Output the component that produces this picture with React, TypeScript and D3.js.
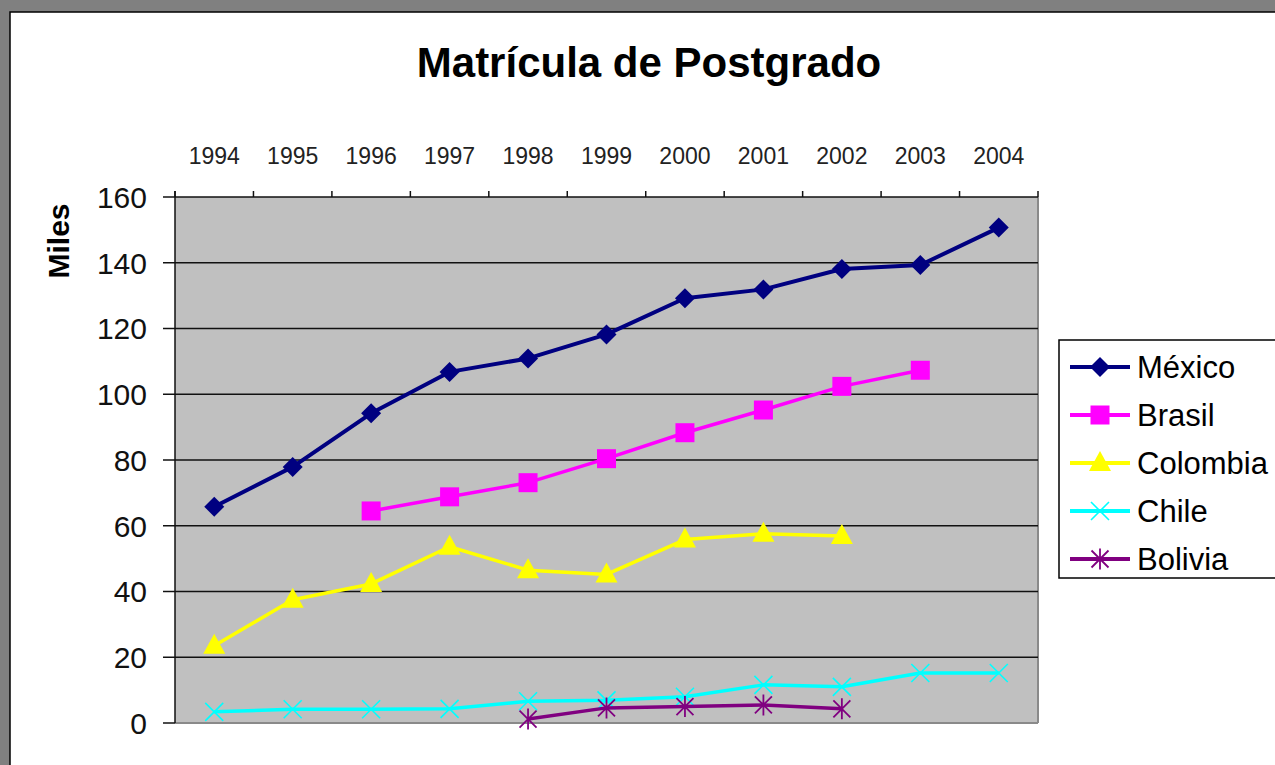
import * as d3 from "d3";

const years = ["1994", "1995", "1996", "1997", "1998", "1999", "2000", "2001", "2002", "2003", "2004"];
const yTicks = [0, 20, 40, 60, 80, 100, 120, 140, 160];

// miles de alumnos, null = sin dato
const mexico = [65.8, 77.9, 94.2, 106.8, 110.9, 118.2, 129.2, 131.9, 138.1, 139.3, 150.7];
const brasil = [null, null, 64.5, 68.8, 73.1, 80.4, 88.3, 95.2, 102.4, 107.3, null];
const colombia = [23.5, 37.5, 42.3, 53.6, 46.5, 45.2, 55.8, 57.6, 56.9, null, null];
const chile = [3.4, 4.2, 4.2, 4.3, 6.6, 6.9, 8.0, 11.6, 11.0, 15.2, 15.2];
const bolivia = [null, null, null, null, 1.2, 4.6, 5.0, 5.5, 4.3, null, null];

const seriesNames = ["México", "Brasil", "Colombia", "Chile", "Bolivia"];
const seriesColors = ["#000080", "#ff00ff", "#ffff00", "#00ffff", "#800080"];
const seriesMarkers = ["diamond", "square", "triangle", "x", "star"];
const seriesValues = [mexico, brasil, colombia, chile, bolivia];

const W = 1275;
const H = 765;
const plot = { left: 175, right: 1038, top: 197, bottom: 723 };
const font = "Arial, 'Liberation Sans', sans-serif";

function Marker({ type, color, cx, cy }: { type: string; color: string; cx: number; cy: number }) {
  if (type === "diamond") {
    const r = 10;
    return <path d={`M${cx},${cy - r}L${cx + r},${cy}L${cx},${cy + r}L${cx - r},${cy}Z`} fill={color} />;
  }
  if (type === "square") {
    const s = 9.5;
    return <rect x={cx - s} y={cy - s} width={s * 2} height={s * 2} fill={color} />;
  }
  if (type === "triangle") {
    return <path d={`M${cx},${cy - 12}L${cx + 11},${cy + 8}L${cx - 11},${cy + 8}Z`} fill={color} />;
  }
  if (type === "x") {
    const r = 9;
    return (
      <path
        d={`M${cx - r},${cy - r}L${cx + r},${cy + r}M${cx - r},${cy + r}L${cx + r},${cy - r}`}
        stroke={color}
        strokeWidth={1.6}
      />
    );
  }
  // star: x + vertical bar
  const r = 8.5;
  return (
    <path
      d={`M${cx - r},${cy - r}L${cx + r},${cy + r}M${cx - r},${cy + r}L${cx + r},${cy - r}M${cx},${cy - r - 2}L${cx},${cy + r + 2}`}
      stroke={color}
      strokeWidth={1.8}
    />
  );
}

export default function App() {
  const x = d3.scaleBand<string>().domain(years).range([plot.left, plot.right]);
  const y = d3.scaleLinear().domain([0, 160]).range([plot.bottom, plot.top]);
  const cx = (yr: string) => (x(yr) as number) + x.bandwidth() / 2;

  const line = d3
    .line<number | null>()
    .defined((d) => d != null)
    .x((_, i) => cx(years[i]))
    .y((d) => y(d as number));

  const boundaries = years.map((yr) => x(yr) as number).concat([plot.right]);

  const legend = { left: 1059, top: 340, bottom: 578, rowY: 367, rowStep: 48 };

  return (
    <svg
      width={W}
      height={H}
      style={{ position: "absolute", left: 0, top: 0, display: "block" }}
      fontFamily={font}
    >
      <rect x={0} y={0} width={W} height={H} fill="#808080" />
      <rect x={10} y={12} width={W} height={H} fill="#ffffff" stroke="#000" strokeWidth={1.5} />

      <text x={649} y={77} textAnchor="middle" fontSize={42} fontWeight="bold" fill="#000">
        Matrícula de Postgrado
      </text>

      {/* área de trazado */}
      <rect
        x={plot.left}
        y={plot.top}
        width={plot.right - plot.left}
        height={plot.bottom - plot.top}
        fill="#c0c0c0"
      />
      <line x1={plot.right} x2={plot.right} y1={plot.top} y2={plot.bottom} stroke="#8a8a8a" strokeWidth={2} />
      <line x1={plot.left} x2={plot.right} y1={plot.bottom} y2={plot.bottom} stroke="#8a8a8a" strokeWidth={2} />

      {yTicks.map((t) => (
        <g key={t}>
          {t > 0 && t < 160 && (
            <line x1={plot.left} x2={plot.right} y1={y(t)} y2={y(t)} stroke="#111" strokeWidth={1.5} />
          )}
          <line x1={163} x2={plot.left} y1={y(t)} y2={y(t)} stroke="#111" strokeWidth={1.5} />
          <text x={147} y={y(t)} dy="0.36em" textAnchor="end" fontSize={30} fill="#111">
            {t}
          </text>
        </g>
      ))}

      {/* eje superior */}
      <line x1={plot.left} x2={plot.right} y1={plot.top} y2={plot.top} stroke="#111" strokeWidth={1.5} />
      <line x1={plot.left} x2={plot.left} y1={plot.top - 6} y2={plot.bottom} stroke="#111" strokeWidth={1.5} />
      {boundaries.map((b, i) => (
        <line key={i} x1={b} x2={b} y1={plot.top - 6} y2={plot.top} stroke="#111" strokeWidth={1.5} />
      ))}
      {years.map((yr) => (
        <text key={yr} x={cx(yr)} y={164} textAnchor="middle" fontSize={23} fill="#222">
          {yr}
        </text>
      ))}

      <text
        transform={`translate(69,241) rotate(-90)`}
        textAnchor="middle"
        fontSize={30}
        fontWeight="bold"
        fill="#000"
      >
        Miles
      </text>

      {seriesValues.map((vals, si) => (
        <g key={seriesNames[si]}>
          <path
            d={line(vals) || ""}
            fill="none"
            stroke={seriesColors[si]}
            strokeWidth={si === 0 ? 4 : 3.5}
            strokeLinejoin="round"
          />
          {vals.map((v, i) =>
            v == null ? null : (
              <Marker key={i} type={seriesMarkers[si]} color={seriesColors[si]} cx={cx(years[i])} cy={y(v)} />
            )
          )}
        </g>
      ))}

      {/* leyenda */}
      <rect
        x={legend.left}
        y={legend.top}
        width={W}
        height={legend.bottom - legend.top}
        fill="#fff"
        stroke="#000"
        strokeWidth={1.5}
      />
      {seriesNames.map((name, i) => {
        const ly = legend.rowY + i * legend.rowStep;
        return (
          <g key={name}>
            <line x1={1070} x2={1130} y1={ly} y2={ly} stroke={seriesColors[i]} strokeWidth={4} />
            <Marker type={seriesMarkers[i]} color={seriesColors[i]} cx={1100} cy={ly} />
            <text x={1137} y={ly} dy="0.36em" fontSize={31} fill="#000">
              {name}
            </text>
          </g>
        );
      })}
    </svg>
  );
}
